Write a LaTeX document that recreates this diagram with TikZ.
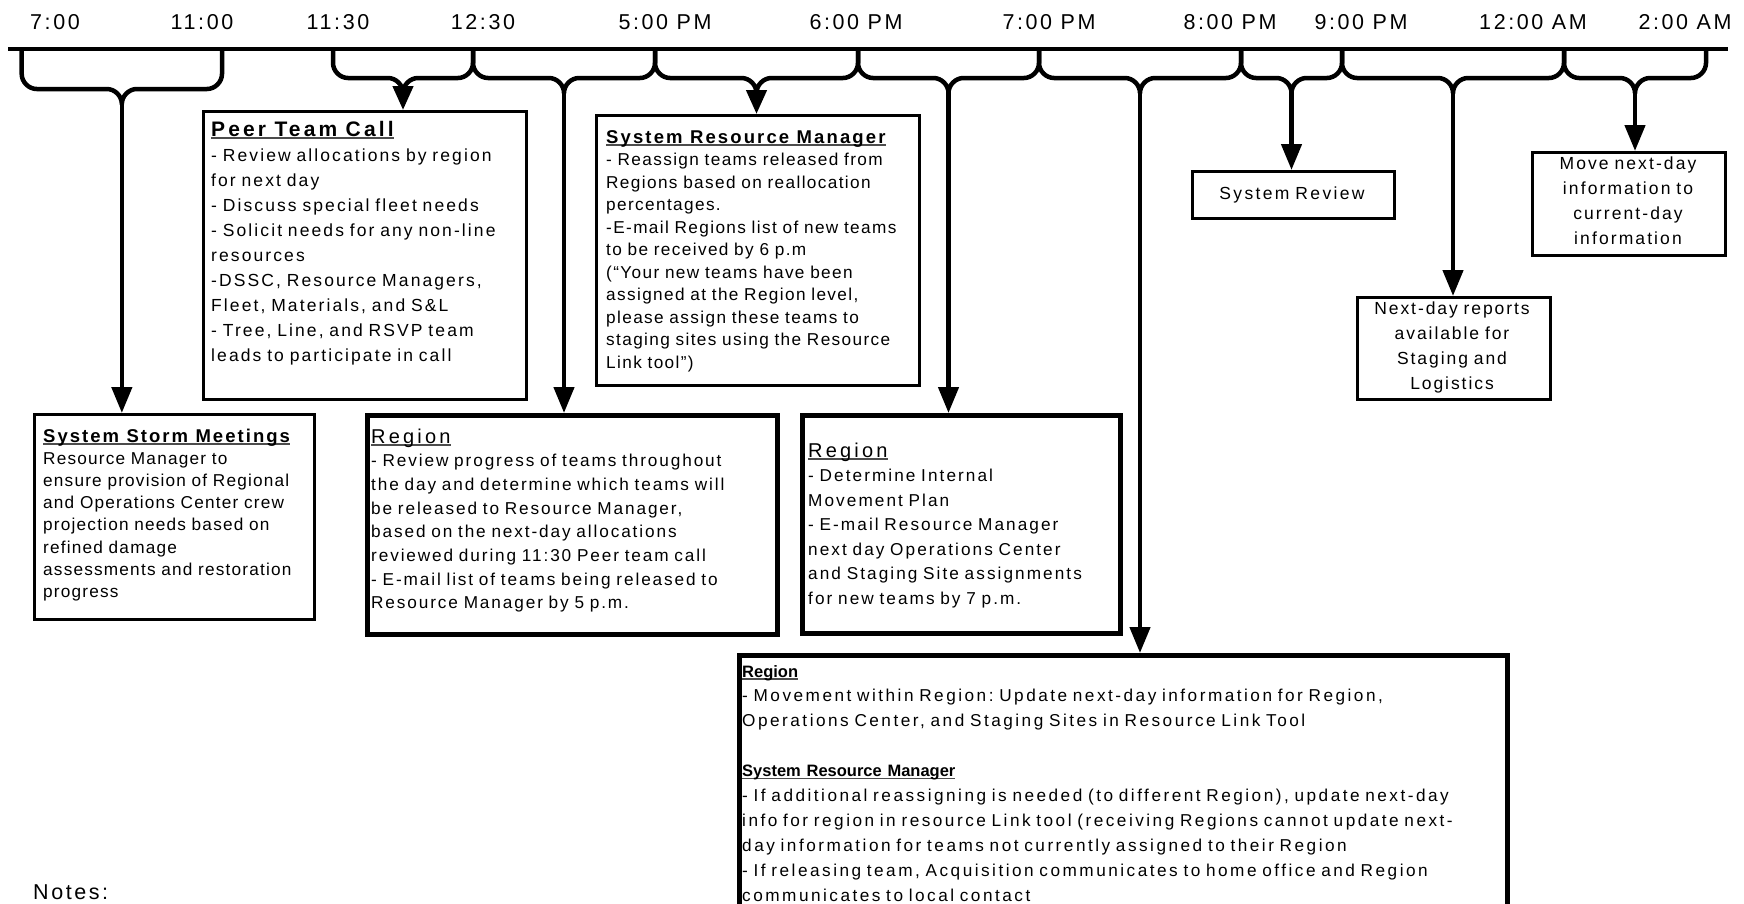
\documentclass[tikz,border=0pt]{standalone}
\usepackage{fontspec}
\setmainfont{Liberation Sans}
\usetikzlibrary{arrows.meta}

% tracked sans at a given size: #1 size, #2 line pitch, #3 tracking, #4 word space (em)
\newcommand\tfont[4]{\fontsize{#1}{#2}\fontspec{Liberation Sans}[LetterSpace=#3]%
  \frenchspacing\spaceskip=#4em plus .05em minus .02em\relax\xspaceskip=\spaceskip}

% underline that sits just under the baseline
\newcommand\hul[1]{\leavevmode\setbox0=\hbox{#1}\rlap{\color{black!70}\rule[-2.8pt]{\wd0}{1.6pt}}\box0}

% curly bracket hanging from the time line; #4 names its lower tip
\newcommand\tlbrace[4]{%
  \pgfmathsetmacro\bmid{(#1+#2)/2}%
  \draw[heavy] (#1,49) -- (#1,#3-15) .. controls (#1,#3-7) and (#1+7,#3) .. (#1+15,#3)
     -- (\bmid-15,#3) .. controls (\bmid-7,#3) and (\bmid,#3+7) .. (\bmid,#3+15) coordinate (#4)
     .. controls (\bmid,#3+7) and (\bmid+7,#3) .. (\bmid+15,#3)
     -- (#2-15,#3) .. controls (#2-7,#3) and (#2,#3-7) .. (#2,#3-15) -- (#2,49);
}

\tikzset{
  heavy/.style={line width=4.5pt, line join=round},
  conn/.style={heavy, -{Triangle[length=26pt,width=20pt]}},
  shortconn/.style={heavy, -{Triangle[length=24pt,width=20pt]}},
  thinbox/.style={draw, line width=2.5pt, inner sep=0pt, anchor=north west},
  thickbox/.style={draw, line width=5pt, inner sep=0pt, anchor=north west},
  txt/.style={inner sep=0pt, align=left, anchor=base west},
  ctxt/.style={inner sep=0pt, align=center, anchor=base},
  tlabel/.style={inner sep=0pt, anchor=base, font=\tfont{21.5}{25}{12}{.4}},
}

\begin{document}
\begin{tikzpicture}[x=1pt,y=-1pt]
\useasboundingbox (0,0) rectangle (1744,903);
\clip (0,0) rectangle (1744,903);
\fill[white] (0,0) rectangle (1744,903);

% ---------- boxes ----------
\node[thinbox, minimum width=280pt, minimum height=205pt] (storm) at (33,413) {};
\node[thinbox, minimum width=323pt, minimum height=288pt] (peer) at (202,110) {};
\node[thinbox, minimum width=323pt, minimum height=270pt] (srm) at (595,114) {};
\node[thickbox, minimum width=410pt, minimum height=219pt] (reg1) at (365,413) {};
\node[thickbox, minimum width=318pt, minimum height=218pt] (reg2) at (800,413) {};
\node[thickbox, minimum width=768pt, minimum height=300pt] (big) at (737,653) {};
\node[thinbox, minimum width=202pt, minimum height=47pt] (sysrev) at (1191,170) {};
\node[thinbox, minimum width=193pt, minimum height=102pt] (nextday) at (1356,296) {};
\node[thinbox, minimum width=193pt, minimum height=103pt] (move) at (1531,151) {};

% ---------- box texts ----------
\node[txt, text width=300pt, font=\tfont{17.2}{22.2}{7}{.33}] (storm-text) at (43,442)
 {\mbox{\tfont{18.5}{22.2}{11}{.4}\bfseries\hul{System Storm Meetings}}\\
  Resource Manager to\\
  ensure provision of Regional\\
  and Operations Center crew\\
  projection needs based on\\
  refined damage\\
  assessments and restoration\\
  progress};

\node[txt, text width=340pt, font=\tfont{17.5}{25}{12}{.4}] (peer-text) at (211,136)
 {\mbox{\tfont{21}{25}{15}{.4}\bfseries\hul{Peer Team Call}}\\
  - Review allocations by region\\
  for next day\\
  - Discuss special fleet needs\\
  - Solicit needs for any non-line\\
  resources\\
  -DSSC, Resource Managers,\\
  Fleet, Materials, and S\&L\\
  - Tree, Line, and RSVP team\\
  leads to participate in call};

\node[txt, text width=340pt, font=\tfont{17.2}{22.5}{8}{.33}] (srm-text) at (606,143)
 {\mbox{\tfont{18.5}{22.5}{11.5}{.4}\bfseries\hul{System Resource Manager}}\\
  - Reassign teams released from\\
  Regions based on reallocation\\
  percentages.\\
  -E-mail Regions list of new teams\\
  to be received by 6 p.m\\
  (“Your new teams have been\\
  assigned at the Region level,\\
  please assign these teams to\\
  staging sites using the Resource\\
  Link tool”)};

\node[txt, text width=430pt, font=\tfont{17.2}{23.7}{11}{.41}] (reg1-text) at (371,443)
 {\mbox{\tfont{20}{23.7}{16}{.4}\hul{Region}}\\
  - Review progress of teams throughout\\
  the day and determine which teams will\\
  be released to Resource Manager,\\
  based on the next-day allocations\\
  reviewed during 11:30 Peer team call\\
  - E-mail list of teams being released to\\
  Resource Manager by 5 p.m.};

\node[txt, text width=340pt, font=\tfont{17.2}{24.5}{12}{.41}] (reg2-text) at (808,457)
 {\mbox{\tfont{20}{24.5}{16}{.4}\hul{Region}}\\
  - Determine Internal\\
  Movement Plan\\
  - E-mail Resource Manager\\
  next day Operations Center\\
  and Staging Site assignments\\
  for new teams by 7 p.m.};

\node[txt, text width=790pt, font=\tfont{17.2}{24.9}{14.5}{.41}] (big-text) at (742,677)
 {\mbox{\fontsize{16.5}{24.9}\rmfamily\bfseries\hul{Region}}\\
  - Movement within Region: Update next-day information for Region,\\
  Operations Center, and Staging Sites in Resource Link Tool\\
  \mbox{}\\
  \mbox{\fontsize{16.5}{24.9}\rmfamily\bfseries\hul{System Resource Manager}}\\
  - If additional reassigning is needed (to different Region), update next-day\\
  info for region in resource Link tool (receiving Regions cannot update next-\\
  day information for teams not currently assigned to their Region\\
  - If releasing team, Acquisition communicates to home office and Region\\
  communicates to local contact};

\node[ctxt, text width=200pt, font=\tfont{17.5}{25}{13.5}{.41}] (sysrev-text) at (1292,199) {System Review};
\node[ctxt, text width=200pt, font=\tfont{17.5}{25}{11}{.41}] (nextday-text) at (1452,314)
 {Next-day reports\\ available for\\ Staging and\\ Logistics};
\node[ctxt, text width=200pt, font=\tfont{17.5}{25}{12}{.41}] (move-text) at (1628,169)
 {Move next-day\\ information to\\ current-day\\ information};

\node[inner sep=0pt, anchor=base west, font=\tfont{21.5}{25}{12}{.4}] (notes) at (33,899) {Notes:};

% ---------- time line ----------
\coordinate (tl-start) at (8,49);
\coordinate (tl-end) at (1728,49);
\draw[heavy] (tl-start) -- (tl-end);

\node[tlabel] (t1) at (55,29.3) {7:00};
\node[tlabel] (t2) at (202,29.3) {11:00};
\node[tlabel] (t3) at (338,29.3) {11:30};
\node[tlabel] (t4) at (483,29.3) {12:30};
\node[tlabel] (t5) at (665,29.3) {5:00 PM};
\node[tlabel] (t6) at (856,29.3) {6:00 PM};
\node[tlabel] (t7) at (1049,29.3) {7:00 PM};
\node[tlabel] (t8) at (1230,29.3) {8:00 PM};
\node[tlabel] (t9) at (1361,29.3) {9:00 PM};
\node[tlabel] (t10) at (1533,29.3) {12:00 AM};
\node[tlabel] (t11) at (1685,29.3) {2:00 AM};

% ---------- brackets ----------
\tlbrace{21.7}{222}{89}{c1}
\tlbrace{333}{473}{78}{c2}
\tlbrace{473}{655}{78}{c3}
\tlbrace{655}{858}{78}{c4}
\tlbrace{858}{1039}{78}{c5}
\tlbrace{1039}{1241}{78}{c6}
\tlbrace{1241}{1342}{78}{c7}
\tlbrace{1342}{1564}{78}{c8}
\tlbrace{1564}{1706}{78}{c9}

% ---------- connectors ----------
\draw[conn] (c1) -- (c1 |- storm.north);
\draw[shortconn] (c2) -- (c2 |- peer.north);
\draw[conn] (c3) -- (c3 |- reg1.north);
\draw[shortconn] (c4) -- (c4 |- srm.north);
\draw[conn] (c5) -- (c5 |- reg2.north);
\draw[conn] (c6) -- (c6 |- big.north);
\draw[conn] (c7) -- (c7 |- sysrev.north);
\draw[conn] (c8) -- (c8 |- nextday.north);
\draw[conn] (c9) -- (c9 |- move.north);
\end{tikzpicture}
\end{document}
